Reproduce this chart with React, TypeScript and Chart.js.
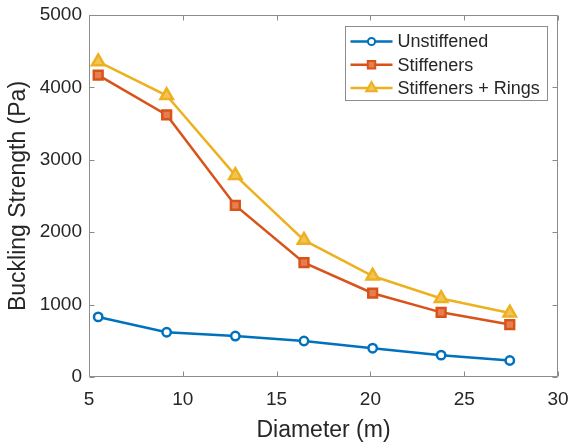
import React, { useEffect, useRef } from "react";
import { Chart, registerables } from "chart.js";

Chart.register(...registerables);

// Shell diameters (m) and buckling strengths (Pa) for three configurations
const diameters = [5.49, 9.14, 12.8, 16.46, 20.12, 23.77, 27.43];
const unstiffened = [830, 618, 566, 497, 398, 302, 228];
const stiffeners = [4170, 3620, 2370, 1580, 1157, 893, 725];
const stiffenersRings = [4355, 3888, 2785, 1890, 1395, 1085, 885];

const seriesNames = ["Unstiffened", "Stiffeners", "Stiffeners + Rings"];
const seriesColors = ["#0072BD", "#D95319", "#EDB120"];
const markerFills = ["#ffffff", "#E57F52", "#F2C458"];
const seriesMarkers = ["circle", "rect", "triangle"] as const;
const seriesRadius = [4.2, 6.2, 7.2];

const xTitle = "Diameter (m)";
const yTitle = "Buckling Strength (Pa)";
const xMin = 5;
const xMax = 30;
const xStep = 5;
const yMin = 0;
const yMax = 5000;
const yStep = 1000;

const FONT = "'Liberation Sans', Arial, Helvetica, sans-serif";
const TEXT = "#262626";
const AXIS = "#8c8c8c";

// Box around the plot area with inward-pointing ticks on all four sides
const framePlugin = {
  id: "frame",
  beforeDatasetsDraw(chart: any) {
    const { ctx, chartArea: a, scales } = chart;
    const L = Math.round(a.left) + 0.5;
    const R = Math.round(a.right) - 0.5;
    const T = Math.round(a.top) + 0.5;
    const B = Math.round(a.bottom) - 0.5;
    const tick = 5;
    ctx.save();
    ctx.strokeStyle = AXIS;
    ctx.lineWidth = 1;
    ctx.beginPath();
    ctx.rect(L, T, R - L, B - T);
    scales.x.ticks.forEach((t: any) => {
      const px = Math.round(scales.x.getPixelForValue(t.value)) + 0.5;
      ctx.moveTo(px, B);
      ctx.lineTo(px, B - tick);
      ctx.moveTo(px, T);
      ctx.lineTo(px, T + tick);
    });
    scales.y.ticks.forEach((t: any) => {
      const py = Math.round(scales.y.getPixelForValue(t.value)) + 0.5;
      ctx.moveTo(L, py);
      ctx.lineTo(L + tick, py);
      ctx.moveTo(R, py);
      ctx.lineTo(R - tick, py);
    });
    ctx.stroke();
    ctx.restore();
  },
};

function drawMarker(ctx: CanvasRenderingContext2D, style: string, x: number, y: number, r: number) {
  ctx.beginPath();
  if (style === "circle") {
    ctx.arc(x, y, r, 0, Math.PI * 2);
  } else if (style === "rect") {
    const s = Math.SQRT1_2 * r;
    ctx.rect(x - s, y - s, 2 * s, 2 * s);
  } else {
    const w = r * Math.sin((2 * Math.PI) / 3);
    ctx.moveTo(x, y - r);
    ctx.lineTo(x + w, y + r / 2);
    ctx.lineTo(x - w, y + r / 2);
    ctx.closePath();
  }
  ctx.fill();
  ctx.stroke();
}

// Boxed legend in the upper right corner of the plot area
const legendPlugin = {
  id: "boxLegend",
  afterDraw(chart: any) {
    const { ctx, chartArea: a } = chart;
    const boxRight = Math.round(a.right) - 10.5;
    const boxLeft = boxRight - 202;
    const boxTop = Math.round(a.top) + 11.5;
    const boxH = 74;
    ctx.save();
    ctx.fillStyle = "#ffffff";
    ctx.strokeStyle = AXIS;
    ctx.lineWidth = 1;
    ctx.fillRect(boxLeft, boxTop, boxRight - boxLeft, boxH);
    ctx.strokeRect(boxLeft, boxTop, boxRight - boxLeft, boxH);
    chart.data.datasets.forEach((ds: any, i: number) => {
      const y = boxTop + 15 + i * 23.3;
      const x0 = boxLeft + 5;
      const x1 = boxLeft + 47;
      ctx.strokeStyle = ds.borderColor;
      ctx.lineWidth = 2.5;
      ctx.beginPath();
      ctx.moveTo(x0, y);
      ctx.lineTo(x1, y);
      ctx.stroke();
      ctx.fillStyle = ds.pointBackgroundColor;
      ctx.lineWidth = 2;
      drawMarker(ctx, ds.pointStyle, (x0 + x1) / 2, y, ds.pointRadius * 0.85);
      ctx.fillStyle = TEXT;
      ctx.font = `18px ${FONT}`;
      ctx.textBaseline = "middle";
      ctx.textAlign = "left";
      ctx.fillText(ds.label, boxLeft + 52, y + 1);
    });
    ctx.restore();
  },
};

export default function App() {
  const canvasRef = useRef<HTMLCanvasElement | null>(null);

  useEffect(() => {
    const canvas = canvasRef.current;
    if (!canvas) return;
    const series = [unstiffened, stiffeners, stiffenersRings];
    const chart = new Chart(canvas, {
      type: "line",
      data: {
        datasets: series.map((vals, i) => ({
          label: seriesNames[i],
          data: diameters.map((d, j) => ({ x: d, y: vals[j] })),
          borderColor: seriesColors[i],
          backgroundColor: seriesColors[i],
          borderWidth: 2.5,
          pointStyle: seriesMarkers[i],
          pointRadius: seriesRadius[i],
          pointBorderWidth: 2.5,
          pointBackgroundColor: markerFills[i],
          pointBorderColor: seriesColors[i],
          tension: 0,
          fill: false,
          order: 3 - i,
        })),
      },
      options: {
        responsive: false,
        animation: false,
        devicePixelRatio: 1,
        layout: { padding: { top: 15, right: 14, left: 0, bottom: 0 } },
        plugins: {
          legend: { display: false },
          tooltip: { enabled: false },
        },
        scales: {
          x: {
            type: "linear",
            min: xMin,
            max: xMax,
            grid: { display: false, drawTicks: false },
            border: { display: false },
            ticks: {
              stepSize: xStep,
              color: TEXT,
              font: { family: FONT, size: 19 },
              padding: 11,
              callback: (v: any) => String(v),
            },
            title: {
              display: true,
              text: xTitle,
              color: TEXT,
              font: { family: FONT, size: 23 },
              padding: { top: 0, bottom: 1 },
            },
            afterFit(scale: any) {
              scale.height = 68;
              scale.paddingLeft = 0;
              scale.paddingRight = 0;
            },
          },
          y: {
            type: "linear",
            min: yMin,
            max: yMax,
            grid: { display: false, drawTicks: false },
            border: { display: false },
            ticks: {
              stepSize: yStep,
              color: TEXT,
              font: { family: FONT, size: 19 },
              padding: 7,
              callback: (v: any) => String(v),
            },
            title: {
              display: true,
              text: yTitle,
              color: TEXT,
              font: { family: FONT, size: 23 },
              padding: { top: 5, bottom: 0 },
            },
            afterFit(scale: any) {
              scale.width = 89;
              scale.paddingTop = 0;
              scale.paddingBottom = 0;
            },
          },
        },
      },
      plugins: [framePlugin, legendPlugin],
    });
    return () => chart.destroy();
  }, []);

  return (
    <div style={{ position: "absolute", left: 0, top: 0, width: 572, height: 445, background: "#ffffff" }}>
      <canvas ref={canvasRef} width={572} height={445} style={{ display: "block" }} />
    </div>
  );
}
